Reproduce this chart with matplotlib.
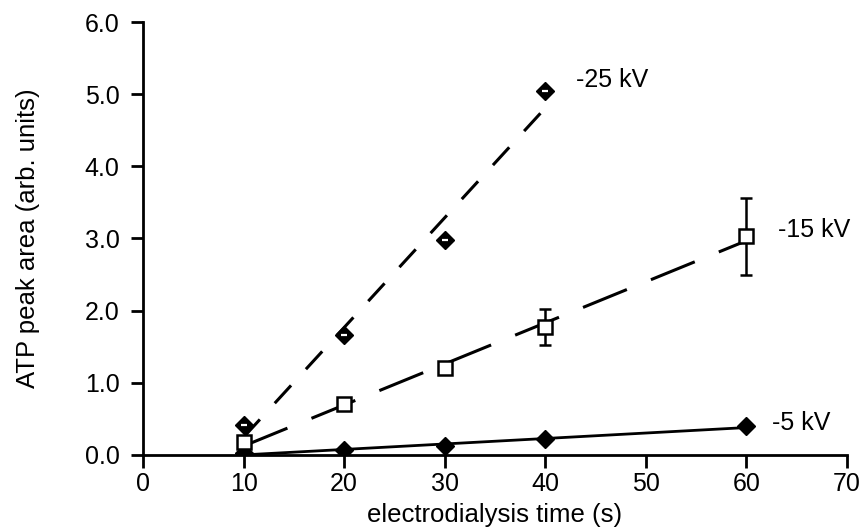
import numpy as np
import matplotlib
matplotlib.use("Agg")
import matplotlib.pyplot as plt

plt.rcParams['font.family'] = ['Liberation Sans', 'DejaVu Sans']

# ATP peak area versus electrodialysis time at three voltages
t_25 = [10, 20, 30, 40]
a_25 = [0.42, 1.66, 2.98, 5.05]

t_15 = [10, 20, 30, 40, 60]
a_15 = [0.18, 0.70, 1.20, 1.77, 3.03]
e_15 = [0.0, 0.0, 0.0, 0.25, 0.53]

t_5 = [10, 20, 30, 40, 60]
a_5 = [0.03, 0.07, 0.12, 0.22, 0.40]

x_ticks = [0, 10, 20, 30, 40, 50, 60, 70]
y_ticks = [0.0, 1.0, 2.0, 3.0, 4.0, 5.0, 6.0]

FS = 18

fig = plt.figure(figsize=(8.63, 5.29), dpi=100)
ax = fig.add_axes([0.1657, 0.1399, 0.8158, 0.8185])


def fit_line(t, a):
    k, b = np.polyfit(t, a, 1)
    xs = np.array([min(t), max(t)])
    return xs, k * xs + b


# linear fits
xs, ys = fit_line(t_25, a_25)
ax.plot(xs, ys, color='black', lw=2.2, dashes=(7.9, 7.2), zorder=2)
xs, ys = fit_line(t_15, a_15)
ax.plot(xs, ys, color='black', lw=2.2, dashes=(15.5, 8.5), zorder=2)
xs, ys = fit_line(t_5, a_5)
ax.plot(xs, ys, color='black', lw=2.0, zorder=2)

# -5 kV: filled diamonds
ax.plot(t_5, a_5, linestyle='none', marker='D', ms=9, color='black', zorder=3)

# -15 kV: open squares with error bars
ax.errorbar(t_15, a_15, yerr=e_15, fmt='s', ms=10, mfc='white', mec='black',
            mew=1.8, ecolor='black', elinewidth=1.8, capsize=4.5, capthick=1.8,
            zorder=4)

# -25 kV: dark diamonds with a light centre
ax.plot(t_25, a_25, linestyle='none', marker='D', ms=9, color='black', zorder=5)
ax.plot(t_25, a_25, linestyle='none', marker='_', ms=4.5, mew=1.6,
        color='white', zorder=6)

# series labels
ax.text(43.1, 5.2, '-25 kV', fontsize=FS, va='center', ha='left')
ax.text(63.1, 3.12, '-15 kV', fontsize=FS, va='center', ha='left')
ax.text(62.5, 0.44, '-5 kV', fontsize=FS, va='center', ha='left')

ax.set_xlim(0, 70)
ax.set_ylim(0, 6.0)
ax.set_xticks(x_ticks)
ax.set_yticks(y_ticks)
ax.set_xticklabels([str(v) for v in x_ticks], fontsize=FS)
ax.set_yticklabels([f'{v:.1f}' for v in y_ticks], fontsize=FS)
ax.tick_params(direction='out', length=9, width=2)
ax.tick_params(axis='x', pad=3)
ax.tick_params(axis='y', pad=8)

for side in ['top', 'right']:
    ax.spines[side].set_visible(False)
for side in ['left', 'bottom']:
    ax.spines[side].set_linewidth(2)

ax.set_xlabel('electrodialysis time (s)', fontsize=18.5)
ax.set_ylabel('ATP peak area (arb. units)', fontsize=18.5)
ax.xaxis.set_label_coords(0.5, -0.112)
ax.yaxis.set_label_coords(-0.146, 0.5)

fig.savefig('out.png', dpi=100)
